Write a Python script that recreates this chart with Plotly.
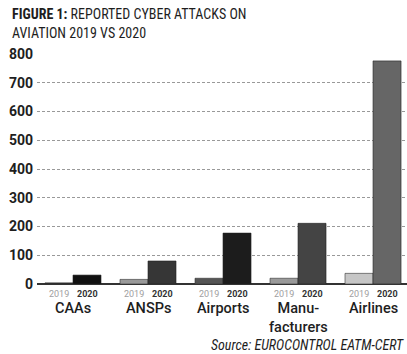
import plotly.graph_objects as go

categories = ["CAAs", "ANSPs", "Airports", "Manu-<br>facturers", "Airlines"]
years = ["2019", "2020"]
values_2019 = [4, 16, 20, 20, 37]
values_2020 = [31, 80, 177, 211, 776]
colors_2019 = ["#2a2a2a", "#9a9a9a", "#555555", "#9a9a9a", "#c6c6c6"]
colors_2020 = ["#111111", "#363636", "#1c1c1c", "#444444", "#666666"]
y_ticks = [0, 100, 200, 300, 400, 500, 600, 700, 800]

fig = go.Figure()
fig.add_trace(go.Bar(x=categories, y=values_2019, name="2019",
                     marker=dict(color=colors_2019, line=dict(width=0.6, color="#333"))))
fig.add_trace(go.Bar(x=categories, y=values_2020, name="2020",
                     marker=dict(color=colors_2020, line=dict(width=0.6, color="#222"))))

fig.update_layout(
    width=407, height=354,
    margin=dict(l=37, r=0, t=54, b=70),
    barmode="group", bargap=0.253, bargroupgap=0,
    showlegend=False,
    plot_bgcolor="white", paper_bgcolor="white",
    xaxis=dict(range=[-0.48, 4.453], showticklabels=False, ticks="",
               showgrid=False, showline=False, zeroline=False, fixedrange=True),
    yaxis=dict(range=[0, 800], tickvals=y_ticks,
               tickfont=dict(family="Roboto, Arial, sans-serif", size=14, color="#1e1e1e", weight="bold"),
               showgrid=True, gridcolor="#999999", gridwidth=1, griddash="3px,2px",
               zeroline=True, zerolinecolor="#333333", zerolinewidth=2,
               showline=False, ticks="", ticklabelstandoff=3),
)

ann = []
for c in categories:
    ann.append(dict(x=c, y=0, xref="x", yref="paper", xshift=-14, yshift=-10,
                    text=years[0], showarrow=False, yanchor="middle",
                    font=dict(family="Roboto, Arial, sans-serif", size=9, color="#a0a0a0")))
    ann.append(dict(x=c, y=0, xref="x", yref="paper", xshift=14, yshift=-10,
                    text="<b>" + years[1] + "</b>", showarrow=False, yanchor="middle",
                    font=dict(family="Roboto, Arial, sans-serif", size=9, color="#333333")))
    ann.append(dict(x=c, y=0, xref="x", yref="paper", yshift=-14,
                    text=c, showarrow=False, yanchor="top",
                    font=dict(family="Roboto, Arial, sans-serif", size=14.5, color="#1e1e1e", weight=500)))

title_font = "Liberation Sans Narrow, Roboto Condensed, Arial Narrow, sans-serif"
ann.append(dict(x=10, y=14, xref="paper", yref="paper", showarrow=False,
                text="<b>FIGURE 1:</b> REPORTED CYBER ATTACKS ON", xanchor="left", yanchor="middle",
                font=dict(family=title_font, size=14, color="#1e1e1e")))
ann.append(dict(x=10, y=33, xref="paper", yref="paper", showarrow=False,
                text="AVIATION 2019 VS 2020", xanchor="left", yanchor="middle",
                font=dict(family=title_font, size=14, color="#1e1e1e")))
ann.append(dict(x=406, y=345, xref="paper", yref="paper", showarrow=False,
                text="<i>Source: EUROCONTROL EATM-CERT</i>", xanchor="right", yanchor="middle",
                font=dict(family=title_font, size=14, color="#1e1e1e")))

# convert pixel-positioned text annotations to paper coords
W, H = 407, 354
pw, ph = W - 37, H - 54 - 70
for a in ann[-3:]:
    a["x"] = (a["x"] - 37) / pw
    a["y"] = (H - 70 - a["y"]) / ph

fig.update_layout(annotations=ann)
fig.write_html("out.html")
